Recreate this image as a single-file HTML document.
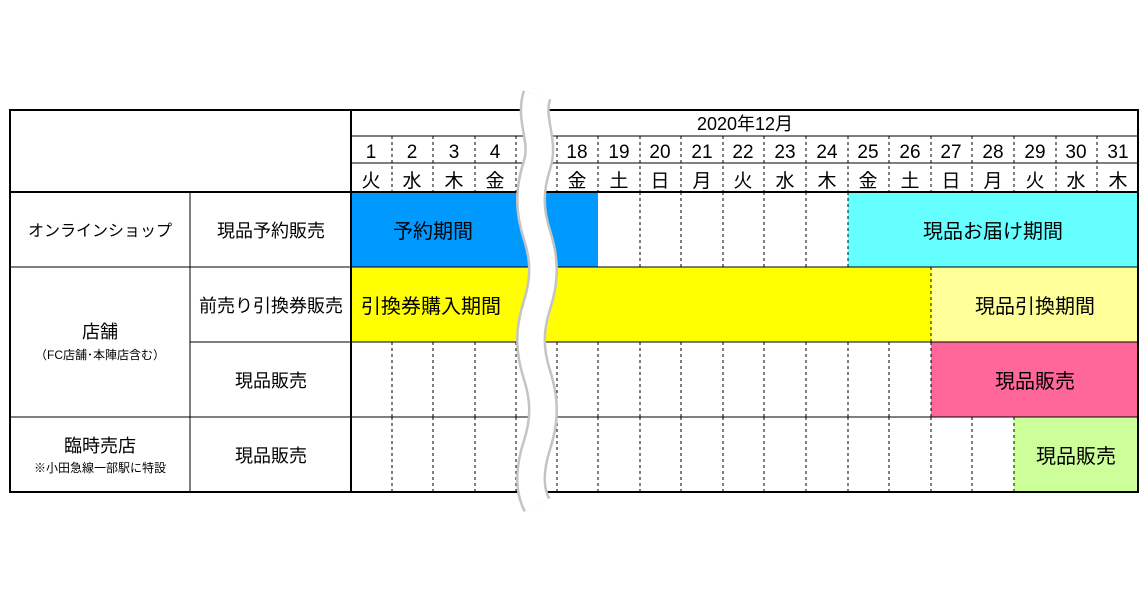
<!DOCTYPE html>
<html><head><meta charset="utf-8"><style>
body{margin:0;background:#fff;}
svg text{font-family:"Liberation Sans","Noto Sans CJK JP",sans-serif;fill:#000;}
</style></head><body>
<svg width="1146" height="600" viewBox="0 0 1146 600" xmlns="http://www.w3.org/2000/svg">
<rect width="1146" height="600" fill="#fff"/>
<rect x="351" y="192" width="247" height="75" fill="#0099ff"/>
<rect x="848" y="192" width="290" height="75" fill="#66ffff"/>
<rect x="351" y="267" width="580" height="75" fill="#ffff00"/>
<rect x="931" y="267" width="207" height="75" fill="#ffff99"/>
<rect x="931" y="342" width="207" height="75" fill="#ff6699"/>
<rect x="1014" y="417" width="124" height="75" fill="#ccff99"/>
<g stroke="#000" stroke-width="1" stroke-dasharray="3,3">
<path d="M392 136V191M433 136V191M475 136V191M516 136V191M557 136V191M598 136V191M640 136V191M681 136V191M723 136V191M764 136V191M806 136V191M848 136V191M889 136V191M931 136V191M972 136V191M1014 136V191M1056 136V191M1097 136V191"/>
<path d="M640 192V267M681 192V267M723 192V267M764 192V267M806 192V267M848 192V267"/>
<path d="M931 267V342"/>
<path d="M392 342V417M433 342V417M475 342V417M516 342V417M557 342V417M598 342V417M640 342V417M681 342V417M723 342V417M764 342V417M806 342V417M848 342V417M889 342V417M931 342V417"/>
<path d="M392 417V492M433 417V492M475 417V492M516 417V492M557 417V492M598 417V492M640 417V492M681 417V492M723 417V492M764 417V492M806 417V492M848 417V492M889 417V492M931 417V492M972 417V492M1014 417V492"/>
</g>
<g stroke="#000" stroke-width="1" fill="none">
<path d="M351 136H1138M351 163H1138M10 192H1138M10 267H1138M190 342H1138M10 417H1138M190 192V492"/>
</g>
<g stroke="#000" stroke-width="2" fill="none">
<rect x="10" y="110" width="1128" height="382"/>
<path d="M351 110V492M10 192H1138"/>
</g>
<path d="M537 95 C529 120,545 140,537 165 S529 210,537 235 S545 280,537 305 S529 350,537 375 S545 420,537 445 S529 490,537 505" stroke="#c4c4c4" stroke-width="30" fill="none"/>
<path d="M537 95 C529 120,545 140,537 165 S529 210,537 235 S545 280,537 305 S529 350,537 375 S545 420,537 445 S529 490,537 505" stroke="#fff" stroke-width="25" fill="none"/>
<g font-size="19" text-anchor="middle">
<text x="745" y="130" font-size="18">2020年12月</text>
<g>
<text x="371" y="158">1</text><text x="412" y="158">2</text><text x="454" y="158">3</text><text x="495" y="158">4</text>
<text x="577" y="158">18</text><text x="619" y="158">19</text><text x="660" y="158">20</text><text x="702" y="158">21</text><text x="743" y="158">22</text><text x="785" y="158">23</text><text x="827" y="158">24</text><text x="868" y="158">25</text><text x="910" y="158">26</text><text x="951" y="158">27</text><text x="993" y="158">28</text><text x="1035" y="158">29</text><text x="1076" y="158">30</text><text x="1118" y="158">31</text>
</g>
<g>
<text x="371" y="187">火</text><text x="412" y="187">水</text><text x="454" y="187">木</text><text x="495" y="187">金</text>
<text x="577" y="187">金</text><text x="619" y="187">土</text><text x="660" y="187">日</text><text x="702" y="187">月</text><text x="743" y="187">火</text><text x="785" y="187">水</text><text x="827" y="187">木</text><text x="868" y="187">金</text><text x="910" y="187">土</text><text x="951" y="187">日</text><text x="993" y="187">月</text><text x="1035" y="187">火</text><text x="1076" y="187">水</text><text x="1118" y="187">木</text>
</g>
<text x="100" y="236" font-size="16">オンラインショップ</text>
<text x="271" y="237" font-size="18">現品予約販売</text>
<text x="271" y="312" font-size="18">前売り引換券販売</text>
<text x="100" y="338" font-size="18">店舗</text>
<text x="100" y="359" font-size="12">（FC店舗･本陣店含む）</text>
<text x="271" y="387" font-size="18">現品販売</text>
<text x="100" y="452" font-size="18">臨時売店</text>
<text x="100" y="472" font-size="12">※小田急線一部駅に特設</text>
<text x="271" y="462" font-size="18">現品販売</text>
<g font-size="20">
<text x="433" y="238">予約期間</text>
<text x="993" y="238">現品お届け期間</text>
<text x="431" y="313">引換券購入期間</text>
<text x="1035" y="313">現品引換期間</text>
<text x="1035" y="388">現品販売</text>
<text x="1076" y="463">現品販売</text>
</g>
</g>
</svg>
</body></html>
